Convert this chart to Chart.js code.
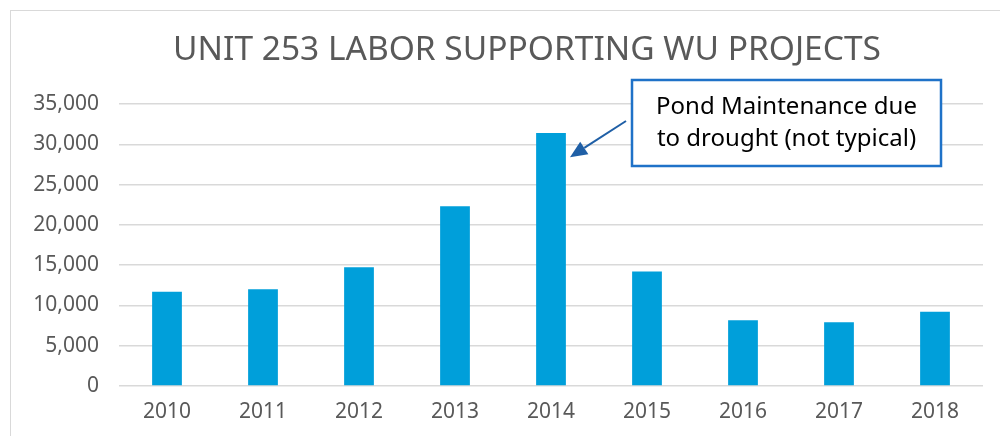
<!DOCTYPE html>
<html>
<head>
<meta charset="utf-8">
<script src="https://cdn.jsdelivr.net/npm/chart.js@4"></script>
<style>
  html, body { margin: 0; padding: 0; background: #fff; overflow: hidden; }
  .frame { position: absolute; left: 10px; top: 10px; width: 1000px; height: 440px; border: 1.5px solid #d9d9d9; }
  .wrap { position: absolute; left: 0; top: 0; width: 1000px; height: 436px; }
</style>
</head>
<body>
<div class="frame"></div>
<div class="wrap"><canvas id="laborChart"></canvas></div>
<script>
const years = ["2010", "2011", "2012", "2013", "2014", "2015", "2016", "2017", "2018"]
const laborHours = [11700, 12000, 14750, 22300, 31400, 14200, 8150, 7900, 9200]
const yTicks = [0, 5000, 10000, 15000, 20000, 25000, 30000, 35000]
const chartTitle = "UNIT 253 LABOR SUPPORTING WU PROJECTS"
const noteLines = ["Pond Maintenance due", "to drought (not typical)"]
const noteIndex = 4
const noteTipValue = 28400

const FONT = "'Noto Sans', sans-serif"

// title sits a bit left of the plot centre, like the original
const titlePlugin = {
  id: "offsetTitle",
  afterDraw(chart) {
    const { ctx } = chart
    ctx.save()
    ctx.fillStyle = "#595959"
    ctx.font = "33.5px " + FONT
    ctx.textAlign = "center"
    ctx.textBaseline = "middle"
    ctx.fillText(chartTitle, 527, 50)
    ctx.restore()
  },
}

// callout box + arrow pointing at the 2014 bar
const calloutPlugin = {
  id: "callout",
  afterDatasetsDraw(chart) {
    const { ctx, scales } = chart
    const boxX = 632, boxY = 80, boxW = 309, boxH = 86

    const tipX = scales.x.getPixelForValue(noteIndex) + 19
    const tipY = scales.y.getPixelForValue(noteTipValue)
    const startX = boxX - 6, startY = 121

    ctx.save()
    // arrow shaft
    const ang = Math.atan2(tipY - startY, tipX - startX)
    const headLen = 17, headW = 7.5
    const baseX = tipX - headLen * Math.cos(ang)
    const baseY = tipY - headLen * Math.sin(ang)
    ctx.strokeStyle = "#1f5fa6"
    ctx.lineWidth = 2
    ctx.beginPath()
    ctx.moveTo(startX, startY)
    ctx.lineTo(baseX, baseY)
    ctx.stroke()
    ctx.fillStyle = "#1f5fa6"
    ctx.beginPath()
    ctx.moveTo(tipX, tipY)
    ctx.lineTo(baseX + headW * Math.sin(ang), baseY - headW * Math.cos(ang))
    ctx.lineTo(baseX - headW * Math.sin(ang), baseY + headW * Math.cos(ang))
    ctx.closePath()
    ctx.fill()

    // box
    ctx.fillStyle = "#fff"
    ctx.fillRect(boxX, boxY, boxW, boxH)
    ctx.strokeStyle = "#1f72c8"
    ctx.lineWidth = 2.5
    ctx.strokeRect(boxX, boxY, boxW, boxH)

    ctx.fillStyle = "#000"
    ctx.font = "24px " + FONT
    ctx.textAlign = "center"
    ctx.textBaseline = "middle"
    ctx.fillText(noteLines[0], boxX + boxW / 2, 107)
    ctx.fillText(noteLines[1], boxX + boxW / 2, 139)
    ctx.restore()
  },
}

const ctx = document.getElementById("laborChart").getContext("2d")
new Chart(ctx, {
  type: "bar",
  data: {
    labels: years,
    datasets: [
      {
        label: "Labor",
        data: laborHours,
        backgroundColor: "#009fda",
        borderWidth: 0,
        categoryPercentage: 1,
        barPercentage: 0.31,
      },
    ],
  },
  options: {
    responsive: true,
    maintainAspectRatio: false,
    animation: false,
    layout: {
      padding: { left: 20, right: 17, top: 104, bottom: 0 },
    },
    plugins: {
      legend: { display: false },
      tooltip: { enabled: false },
      title: { display: false },
    },
    scales: {
      y: {
        min: 0,
        max: 35000,
        afterBuildTicks: (scale) => {
          scale.ticks = yTicks.map((v) => ({ value: v }))
        },
        afterFit: (scale) => {
          scale.width = 99
        },
        border: { display: false },
        grid: { color: "#d9d9d9", lineWidth: 1.5, drawTicks: false },
        ticks: {
          color: "#595959",
          padding: 20,
          font: { family: FONT, size: 21 },
          callback: (v) => v.toLocaleString("en-US"),
        },
      },
      x: {
        afterFit: (scale) => {
          scale.height = 50
        },
        border: { display: false },
        grid: { display: false },
        ticks: {
          color: "#595959",
          padding: 5,
          font: { family: FONT, size: 21 },
        },
      },
    },
  },
  plugins: [titlePlugin, calloutPlugin],
})
</script>
</body>
</html>
